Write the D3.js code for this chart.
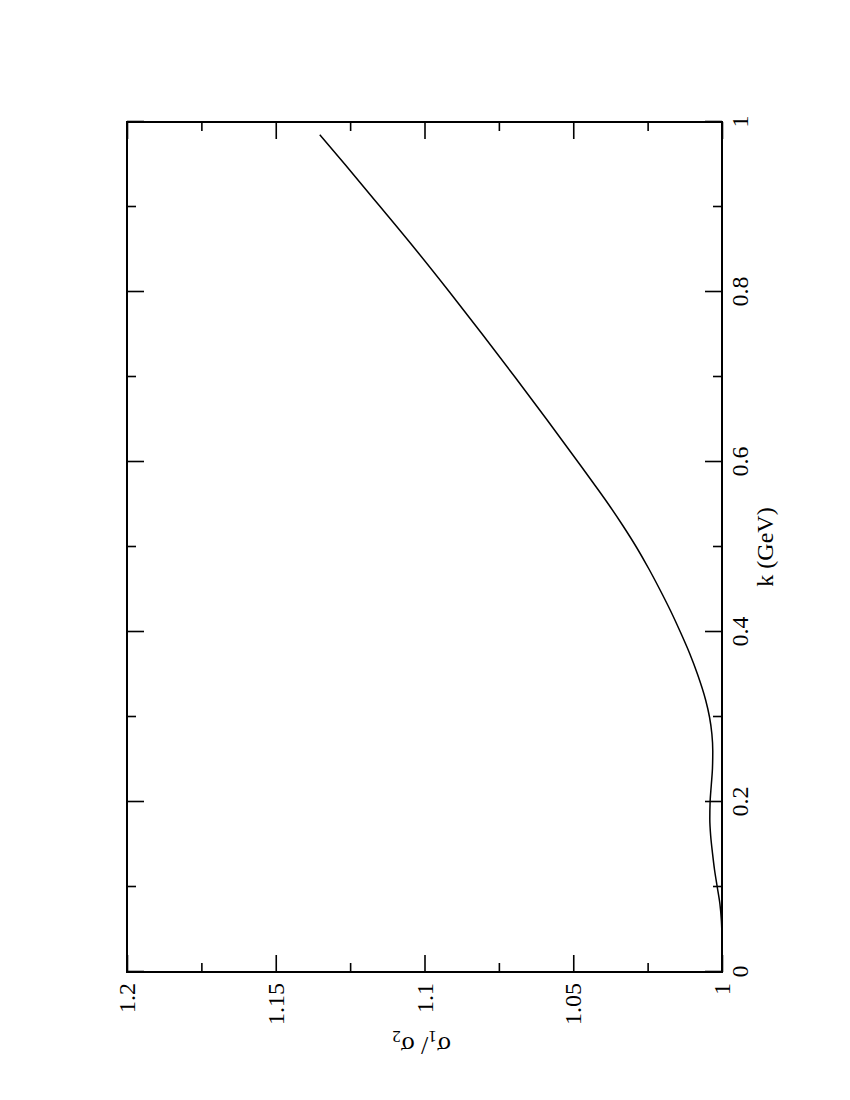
<!DOCTYPE html>
<html>
<head>
<meta charset="utf-8">
<script src="https://cdn.jsdelivr.net/npm/d3@7"></script>
<style>
  body { margin: 0; background: #fff; }
  svg { display: block; }
  text { font-family: "Liberation Serif", "Times New Roman", Times, serif; }
</style>
</head>
<body>
<svg id="chart"></svg>
<script>
// k (GeV) and the ratio sigma1/sigma2
const kValues = [0.04, 0.06, 0.08, 0.10, 0.12, 0.14, 0.16, 0.18, 0.20, 0.22, 0.24, 0.26, 0.28, 0.30,
                 0.32, 0.35, 0.375, 0.40, 0.425, 0.45, 0.475, 0.50, 0.525, 0.55, 0.575, 0.60,
                 0.65, 0.70, 0.75, 0.80, 0.85, 0.90, 0.95, 0.985];
const ratioValues = [1.0000, 1.0002, 1.0007, 1.0016, 1.0025, 1.0032, 1.0038, 1.0041, 1.0040, 1.0036, 1.0032, 1.0031, 1.0034, 1.0042,
                     1.0055, 1.0082, 1.0109, 1.0140, 1.0173, 1.0209, 1.0247, 1.0288, 1.0333, 1.0381, 1.0432, 1.0484,
                     1.0589, 1.0696, 1.0805, 1.0916, 1.1030, 1.1148, 1.1267, 1.1352];

const kTicks = [0, 0.2, 0.4, 0.6, 0.8, 1];
const kMinorTicks = [0.1, 0.3, 0.5, 0.7, 0.9];
const ratioTicks = [1, 1.05, 1.1, 1.15, 1.2];
const ratioMinorTicks = [1.025, 1.075, 1.125, 1.175];
const kLabel = "k (GeV)";

const width = 850, height = 1100;
// frame on the page (the whole plot is drawn landscape and turned -90deg)
const frame = { left: 127, top: 122, right: 722, bottom: 972 };
const plotW = frame.bottom - frame.top;   // length of the k axis
const plotH = frame.right - frame.left;   // length of the ratio axis
const fontSize = 24;
const serif = "'Liberation Serif', 'Times New Roman', Times, serif";

const svg = d3.select("#chart")
    .attr("width", width)
    .attr("height", height);

svg.append("rect").attr("width", width).attr("height", height).attr("fill", "#fff");

const g = svg.append("g")
    .attr("transform", `translate(${frame.left},${frame.bottom}) rotate(-90)`);

const x = d3.scaleLinear().domain([0, 1]).range([0, plotW]);
const y = d3.scaleLinear().domain([1, 1.2]).range([plotH, 0]);

const fmt = d3.format("~g");

function styleAxis(sel) {
    sel.attr("font-size", fontSize).attr("font-family", serif);
    sel.select(".domain").remove();
    sel.selectAll("line").attr("stroke", "#000").attr("stroke-width", 1.6);
    sel.selectAll("text").attr("fill", "#000").style("font-family", serif);
}

// k axis (bottom of the landscape plot = right side of the page)
g.append("g")
    .attr("transform", `translate(0,${plotH})`)
    .call(d3.axisBottom(x).tickValues(kTicks).tickSize(-17).tickSizeOuter(0).tickPadding(9).tickFormat(fmt))
    .call(styleAxis);
g.append("g")
    .attr("transform", `translate(0,${plotH})`)
    .call(d3.axisBottom(x).tickValues(kMinorTicks).tickSize(-9).tickSizeOuter(0).tickFormat(""))
    .call(styleAxis);

// mirrored k ticks
g.append("g")
    .call(d3.axisTop(x).tickValues(kTicks).tickSize(-17).tickSizeOuter(0).tickFormat(""))
    .call(styleAxis);
g.append("g")
    .call(d3.axisTop(x).tickValues(kMinorTicks).tickSize(-9).tickSizeOuter(0).tickFormat(""))
    .call(styleAxis);

// ratio axis (left of the landscape plot = bottom of the page)
g.append("g")
    .call(d3.axisLeft(y).tickValues(ratioTicks).tickSize(-17).tickSizeOuter(0).tickPadding(11).tickFormat(fmt))
    .call(styleAxis);
g.append("g")
    .call(d3.axisLeft(y).tickValues(ratioMinorTicks).tickSize(-9).tickSizeOuter(0).tickFormat(""))
    .call(styleAxis);

// mirrored ratio ticks
g.append("g")
    .attr("transform", `translate(${plotW},0)`)
    .call(d3.axisRight(y).tickValues(ratioTicks).tickSize(-17).tickSizeOuter(0).tickFormat(""))
    .call(styleAxis);
g.append("g")
    .attr("transform", `translate(${plotW},0)`)
    .call(d3.axisRight(y).tickValues(ratioMinorTicks).tickSize(-9).tickSizeOuter(0).tickFormat(""))
    .call(styleAxis);

// frame
g.append("rect")
    .attr("width", plotW)
    .attr("height", plotH)
    .attr("fill", "none")
    .attr("stroke", "#000")
    .attr("stroke-width", 2);

// curve
const line = d3.line()
    .x((d, i) => x(kValues[i]))
    .y((d, i) => y(ratioValues[i]))
    .curve(d3.curveMonotoneX);

g.append("path")
    .datum(kValues)
    .attr("fill", "none")
    .attr("stroke", "#000")
    .attr("stroke-width", 1.5)
    .attr("d", line);

// axis titles
g.append("text")
    .attr("x", x(0.5))
    .attr("y", plotH + 51)
    .attr("text-anchor", "middle")
    .attr("font-size", fontSize)
    .text(kLabel);

const yTitle = g.append("text")
    .attr("transform", `translate(-65,${y(1.1) - 3}) rotate(-90)`)
    .attr("text-anchor", "middle")
    .attr("font-size", 26);
yTitle.append("tspan").text("σ");
yTitle.append("tspan").attr("font-size", 17).attr("dy", 6).text("1");
yTitle.append("tspan").attr("dy", -6).text("/ σ");
yTitle.append("tspan").attr("font-size", 17).attr("dy", 6).text("2");
</script>
</body>
</html>
